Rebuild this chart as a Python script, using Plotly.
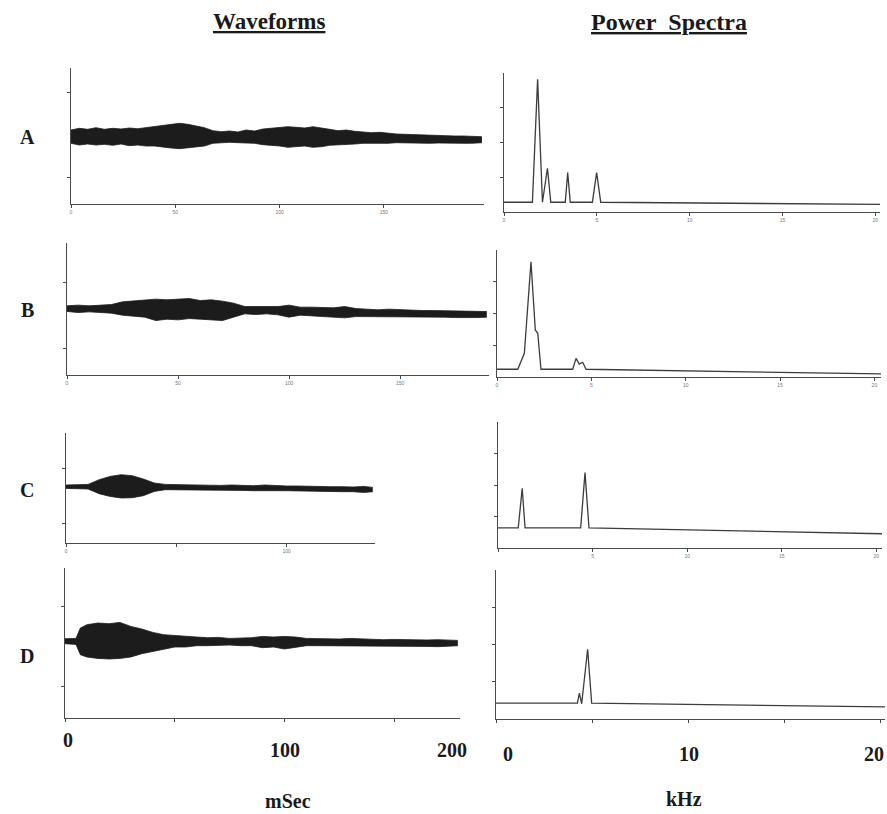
import plotly.graph_objects as go

# ---------------- data ----------------
# Waveform envelopes: time (ms), upper / lower envelope (arbitrary amplitude units)
wave_A_t = [0, 4, 8, 12, 16, 20, 24, 28, 32, 36, 40, 44, 48, 52, 56, 60, 64, 68, 72, 76,
            80, 84, 88, 92, 96, 100, 104, 108, 112, 116, 120, 124, 128, 132, 136, 140,
            144, 148, 152, 156, 160, 164, 168, 172, 176, 180, 184, 188, 192, 197]
wave_A_up = [0.6, 0.77, 0.67, 0.83, 0.67, 0.77, 0.7, 0.8, 0.73, 0.83, 0.93, 1.07, 1.2, 1.27,
             1.17, 1.0, 0.83, 0.53, 0.43, 0.5, 0.4, 0.6, 0.5, 0.7, 0.77, 0.83, 0.93, 0.87,
             0.8, 0.93, 0.83, 0.67, 0.53, 0.6, 0.47, 0.4, 0.33, 0.37, 0.27, 0.2, 0.17, 0.13,
             0.1, 0.07, 0.07, 0.03, 0, 0, -0.03, -0.07]
wave_A_lo = [-0.73, -0.9, -0.8, -0.9, -0.83, -0.93, -0.8, -0.97, -0.9, -1.0, -1.0, -1.13,
             -1.2, -1.27, -1.17, -1.13, -1.0, -0.73, -0.67, -0.63, -0.67, -0.73, -0.73,
             -0.87, -0.93, -1.0, -1.13, -1.07, -1.0, -1.13, -1.07, -0.93, -0.9, -0.87,
             -0.8, -0.73, -0.73, -0.77, -0.73, -0.67, -0.7, -0.7, -0.7, -0.73, -0.7,
             -0.73, -0.73, -0.73, -0.73, -0.67]

wave_B_t = [0, 5, 10, 15, 20, 25, 30, 35, 40, 45, 50, 55, 60, 65, 70, 75, 80, 85, 90, 95,
            100, 105, 110, 115, 120, 125, 130, 135, 140, 145, 150, 155, 160, 165, 170,
            175, 180, 185, 189]
wave_B_up = [0.23, 0.3, 0.23, 0.33, 0.36, 0.63, 0.7, 0.76, 0.9, 0.83, 0.86, 0.96, 0.76,
             0.83, 0.7, 0.5, 0.16, 0.16, 0.1, 0.16, 0.3, 0.1, 0.1, 0.06, 0.03, 0.16, -0.04,
             -0.1, -0.17, -0.1, -0.17, -0.17, -0.24, -0.24, -0.27, -0.3, -0.3, -0.34, -0.34]
wave_B_lo = [-0.33, -0.44, -0.37, -0.47, -0.5, -0.7, -0.77, -0.9, -1.24, -1.1, -1.17,
             -1.04, -1.1, -1.17, -1.24, -0.9, -0.57, -0.64, -0.57, -0.67, -0.9, -0.7,
             -0.77, -0.77, -0.84, -0.97, -0.84, -0.84, -0.84, -0.9, -0.84, -0.9, -0.9,
             -0.9, -0.9, -0.94, -0.97, -0.94, -0.9]

wave_C_t = [0, 5, 10, 15, 20, 25, 30, 35, 40, 45, 50, 55, 60, 65, 70, 75, 80, 85, 90, 95,
            100, 105, 110, 115, 120, 125, 130, 135, 139]
wave_C_up = [0.14, 0.17, 0.2, 0.67, 1.0, 1.17, 1.07, 0.74, 0.34, 0.2, 0.17, 0.17, 0.14,
             0.14, 0.1, 0.14, 0.1, 0.07, 0.14, 0.07, 0.04, 0.04, 0, 0, -0.03, -0.03,
             -0.06, 0, -0.1]
wave_C_lo = [-0.2, -0.23, -0.26, -0.73, -1.0, -1.16, -1.13, -0.93, -0.5, -0.33, -0.33,
             -0.36, -0.33, -0.4, -0.36, -0.4, -0.4, -0.43, -0.46, -0.43, -0.43, -0.46,
             -0.46, -0.5, -0.5, -0.53, -0.53, -0.6, -0.53]

wave_D_t = [0, 5, 7, 10, 15, 20, 25, 30, 35, 40, 45, 50, 55, 60, 65, 70, 75, 80, 85, 90,
            95, 100, 105, 110, 115, 120, 125, 130, 135, 140, 145, 150, 155, 160, 165,
            170, 175, 179]
wave_D_up = [0.27, 0.3, 1.34, 1.67, 1.84, 1.77, 1.9, 1.5, 1.24, 0.9, 0.67, 0.57, 0.5, 0.44,
             0.37, 0.4, 0.3, 0.3, 0.37, 0.5, 0.44, 0.5, 0.44, 0.3, 0.27, 0.3, 0.24, 0.3,
             0.24, 0.24, 0.17, 0.2, 0.17, 0.17, 0.14, 0.17, 0.1, 0.1]
wave_D_lo = [-0.23, -0.3, -1.33, -1.56, -1.7, -1.76, -1.7, -1.56, -1.23, -1.0, -0.76,
             -0.56, -0.56, -0.43, -0.43, -0.4, -0.36, -0.43, -0.43, -0.63, -0.56, -0.76,
             -0.56, -0.43, -0.43, -0.43, -0.43, -0.46, -0.43, -0.5, -0.43, -0.5, -0.46,
             -0.5, -0.5, -0.53, -0.5, -0.43]

# Power spectra: frequency (kHz) and relative power
spec_A_f = [0, 1.53, 1.81, 2.07, 2.34, 2.52, 3.3, 3.43, 3.57, 4.76, 4.99, 5.21, 20.25]
spec_A_p = [0.07, 0.07, 0.955, 0.07, 0.314, 0.07, 0.07, 0.283, 0.07, 0.07, 0.283, 0.07, 0.055]

spec_B_f = [0, 1.1, 1.45, 1.8, 2.03, 2.16, 2.33, 4.01, 4.19, 4.36, 4.54, 4.72, 20.35]
spec_B_p = [0.061, 0.061, 0.187, 0.908, 0.37, 0.344, 0.061, 0.061, 0.147, 0.102, 0.116,
            0.061, 0.024]

spec_C_f = [0, 1.07, 1.28, 1.43, 4.37, 4.6, 4.81, 20.3]
spec_C_p = [0.159, 0.159, 0.474, 0.159, 0.159, 0.598, 0.159, 0.113]

spec_D_f = [0, 4.24, 4.34, 4.46, 4.77, 4.98, 20.25]
spec_D_p = [0.107, 0.107, 0.174, 0.102, 0.468, 0.107, 0.081]

row_labels = ["A", "B", "C", "D"]
wave_ticks = [[0, 50, 100, 150], [0, 50, 100, 150], [0, 50, 100], [0, 50, 100, 150]]
wave_ticklabels = [["0", "50", "100", "150"], ["0", "50", "100", "150"],
                   ["0", "", "100"], ["", "", "", ""]]
spec_ticks = [0, 5, 10, 15, 20]
spec_ticklabels = [["0", "5", "10", "15", "20"], ["0", "5", "10", "15", "20"],
                   ["", "5", "10", "15", "20"], ["", "", "", "", ""]]
bottom_time_labels = ["0", "100", "200"]
bottom_freq_labels = ["0", "10", "20"]

# ---------------- layout geometry (pixels) ----------------
W, H = 887, 814


def dx(a, b):
    return [a / W, b / W]


def dy(top, bottom):
    return [1 - bottom / H, 1 - top / H]


waves = [
    dict(t=wave_A_t, up=wave_A_up, lo=wave_A_lo, x=(71, 484), y=(68, 204), xr=[0, 198],
         yr=[-6.8, 6.8], yt=[4.4, -4.1]),
    dict(t=wave_B_t, up=wave_B_up, lo=wave_B_lo, x=(67, 489), y=(243, 375), xr=[0, 190],
         yr=[-6.67, 6.5], yt=[2.57, -4.0]),
    dict(t=wave_C_t, up=wave_C_up, lo=wave_C_lo, x=(66, 375), y=(433, 543), xr=[0, 140],
         yr=[-5.66, 5.34], yt=[1.84, -3.66]),
    dict(t=wave_D_t, up=wave_D_up, lo=wave_D_lo, x=(65, 460), y=(568, 718), xr=[0, 180],
         yr=[-7.66, 7.34], yt=[3.5, -4.5]),
]
specs = [
    dict(f=spec_A_f, p=spec_A_p, x=(504, 880), y=(73, 212), xr=[0, 20.25]),
    dict(f=spec_B_f, p=spec_B_p, x=(497, 881), y=(250, 377), xr=[0, 20.35]),
    dict(f=spec_C_f, p=spec_C_p, x=(498, 882), y=(422, 548), xr=[0, 20.3]),
    dict(f=spec_D_f, p=spec_D_p, x=(496, 885), y=(570, 719), xr=[0, 20.25]),
]

AXC = "#4a4a4a"
INK = "#1c1c1c"
SPEC = "#3c3c3c"
tickfont = dict(family="Liberation Sans", size=5, color="#777")

fig = go.Figure()
layout = dict(width=W, height=H, margin=dict(l=0, r=0, t=0, b=0), paper_bgcolor="white",
              plot_bgcolor="white", showlegend=False)

n = 1
for i, w in enumerate(waves):
    xa, ya = f"x{n}" if n > 1 else "x", f"y{n}" if n > 1 else "y"
    fig.add_trace(go.Scatter(x=w["t"], y=w["up"], mode="lines", xaxis=xa, yaxis=ya,
                             line=dict(color=INK, width=0.8), hoverinfo="skip"))
    fig.add_trace(go.Scatter(x=w["t"], y=w["lo"], mode="lines", xaxis=xa, yaxis=ya,
                             fill="tonexty", fillcolor=INK,
                             line=dict(color=INK, width=0.8), hoverinfo="skip"))
    key = "" if n == 1 else str(n)
    layout["xaxis" + key] = dict(domain=dx(*w["x"]), range=w["xr"], anchor=ya,
                                 showline=True, linecolor=AXC, linewidth=1,
                                 showgrid=False, zeroline=False, ticks="outside",
                                 ticklen=3, tickcolor=AXC, tickvals=wave_ticks[i],
                                 ticktext=wave_ticklabels[i], tickfont=tickfont)
    layout["yaxis" + key] = dict(domain=dy(*w["y"]), range=w["yr"], anchor=xa,
                                 showline=True, linecolor=AXC, linewidth=1,
                                 showgrid=False, zeroline=False, ticks="outside",
                                 ticklen=3, tickcolor=AXC, tickvals=w["yt"],
                                 showticklabels=False)
    n += 1

for i, s in enumerate(specs):
    xa, ya = f"x{n}", f"y{n}"
    fig.add_trace(go.Scatter(x=s["f"], y=s["p"], mode="lines", xaxis=xa, yaxis=ya,
                             line=dict(color=SPEC, width=1.3), hoverinfo="skip"))
    key = str(n)
    layout["xaxis" + key] = dict(domain=dx(*s["x"]), range=s["xr"], anchor=ya,
                                 showline=True, linecolor=AXC, linewidth=1,
                                 showgrid=False, zeroline=False, ticks="outside",
                                 ticklen=3, tickcolor=AXC, tickvals=spec_ticks,
                                 ticktext=spec_ticklabels[i], tickfont=tickfont)
    layout["yaxis" + key] = dict(domain=dy(*s["y"]), range=[0, 1], anchor=xa,
                                 showline=True, linecolor=AXC, linewidth=1,
                                 showgrid=False, zeroline=False, ticks="outside",
                                 ticklen=3, tickcolor=AXC, tickvals=[0.25, 0.5, 0.75],
                                 showticklabels=False)
    n += 1

serif = "Liberation Serif"
ann = []


def add_text(txt, px, py, size, anchor="center"):
    ann.append(dict(text=txt, x=px / W, y=1 - py / H, xref="paper", yref="paper",
                    showarrow=False, xanchor=anchor, yanchor="middle",
                    font=dict(family=serif, size=size, color="#1a1a1a")))


add_text("<b><u>Waveforms</u></b>", 269, 21, 23)
add_text("<b><u>Power\u00a0 Spectra</u></b>", 669, 22, 24)
for lab, py in zip(row_labels, [137, 310, 490, 656]):
    add_text(f"<b>{lab}</b>", 27, py, 20)
for lab, px, py in zip(bottom_time_labels, [68, 285, 452], [740, 750, 750]):
    add_text(f"<b>{lab}</b>", px, py, 20)
add_text(f"<b>{bottom_freq_labels[0]}</b>", 508, 754, 20)
add_text(f"<b>{bottom_freq_labels[1]}</b>", 689, 754, 20)
add_text(f"<b>{bottom_freq_labels[2]}</b>", 886, 754, 20, anchor="right")
add_text("<b>mSec</b>", 288, 801, 20)
add_text("<b>kHz</b>", 684, 799, 20)

layout["annotations"] = ann
fig.update_layout(**layout)
fig.write_html("out.html", config={"displayModeBar": False, "staticPlot": True},
               post_script="document.body.style.margin='0';document.body.style.overflow='hidden';")
